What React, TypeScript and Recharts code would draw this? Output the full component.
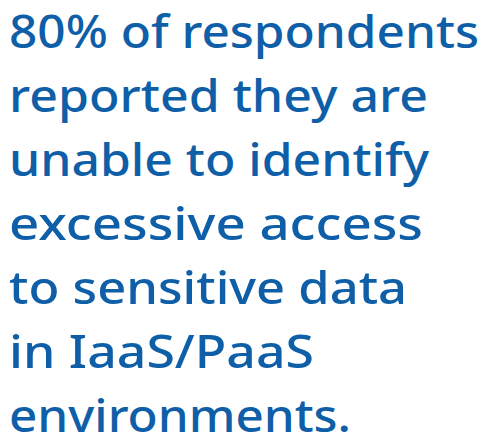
import { Surface, Layer } from 'recharts';

const lines = [
  '80% of respondents',
  'reported they are',
  'unable to identify',
  'excessive access',
  'to sensitive data',
  'in IaaS/PaaS',
  'environments.',
];

// measured ink widths of each line in the reference (px)
const lineWidths = [470, 419, 420, 414, 398, 305, 342];

const WIDTH = 485;
const HEIGHT = 437;
const COLOR = '#0e5ea8';

export default function App() {
  return (
    <div style={{ position: 'absolute', left: 0, top: 0, background: '#fff' }}>
      <Surface width={WIDTH} height={HEIGHT}>
        <Layer>
          {lines.map((line, i) => (
            <text
              key={line}
              x={9}
              y={48 + i * 64}
              fill={COLOR}
              fontFamily="'Noto Sans', sans-serif"
              fontWeight={500}
              fontSize={46}
              textLength={lineWidths[i]}
              lengthAdjust="spacingAndGlyphs"
            >
              {line}
            </text>
          ))}
        </Layer>
      </Surface>
    </div>
  );
}
